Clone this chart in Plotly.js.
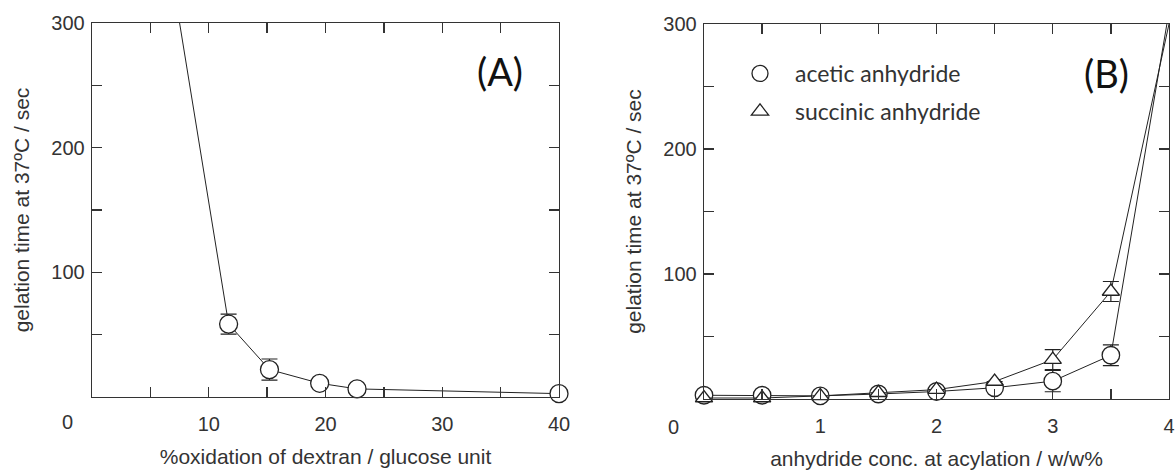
<!DOCTYPE html>
<html>
<head>
<meta charset="utf-8">
<script src="https://cdn.plot.ly/plotly-3.0.1.min.js"></script>
<style>
  html, body { margin: 0; padding: 0; background: #fff; }
  #chart { width: 1175px; height: 472px; }
</style>
</head>
<body>
<div id="chart"></div>
<script>
// ---------- Panel A: %oxidation vs gelation time ----------
const oxidation = [11.7, 15.2, 19.5, 22.7, 40];
const gelTimeA = [58.5, 22, 11, 6.5, 2.7];
const gelErrA = [8, 8.5, 0, 0, 0];
// curve continues above the plotted range toward lower oxidation
const oxidationLead = [5];
const gelTimeALead = [444];

// ---------- Panel B: anhydride conc. vs gelation time ----------
const anhydrideConc = [0, 0.5, 1, 1.5, 2, 2.5, 3, 3.5];
const aceticTime = [3, 3, 2.5, 4, 6, 9, 14.3, 35];
const aceticErr = [0, 0, 0, 0, 0, 0, 8.5, 8.3];
const succinicTime = [0.8, 0.8, 2.5, 5, 7.5, 14, 31.5, 86];
const succinicErr = [0, 0, 0, 0, 0, 0, 8, 8];
// both curves continue to the top-right corner
const concTail = [4];
const aceticTail = [310];
const succinicTail = [300];

// tick labels
const xTickValsA = [0, 5, 10, 15, 20, 25, 30, 35, 40];
const xTickTextA = ['', '', '10', '', '20', '', '30', '', '40'];
const xTickValsB = [0, 0.5, 1, 1.5, 2, 2.5, 3, 3.5, 4];
const xTickTextB = ['', '', '1', '', '2', '', '3', '', '4'];
const yTickVals = [0, 50, 100, 150, 200, 250, 300];
const yTickText = ['', '', '100', '', '200', '', '300'];

const seriesNames = ['acetic anhydride', 'succinic anhydride'];

const INK = '#222';
const lineStyle = {color: INK, width: 1};
const errStyle = (arr) => ({type: 'data', array: arr, visible: true, color: INK, thickness: 1.2, width: 8});

const traces = [
  // Panel A line
  {x: oxidationLead.concat(oxidation), y: gelTimeALead.concat(gelTimeA),
   xaxis: 'x', yaxis: 'y', mode: 'lines', line: lineStyle, showlegend: false, hoverinfo: 'skip'},
  // Panel A markers
  {x: oxidation, y: gelTimeA, xaxis: 'x', yaxis: 'y', mode: 'markers', cliponaxis: false,
   marker: {symbol: 'circle', size: 18, color: '#fff', line: {color: INK, width: 1.3}},
   error_y: errStyle(gelErrA), showlegend: false},

  // Panel B lines
  {x: anhydrideConc.concat(concTail), y: aceticTime.concat(aceticTail),
   xaxis: 'x2', yaxis: 'y2', mode: 'lines', line: lineStyle, showlegend: false, hoverinfo: 'skip'},
  {x: anhydrideConc.concat(concTail), y: succinicTime.concat(succinicTail),
   xaxis: 'x2', yaxis: 'y2', mode: 'lines', line: lineStyle, showlegend: false, hoverinfo: 'skip'},
  // Panel B markers
  {x: anhydrideConc, y: aceticTime, xaxis: 'x2', yaxis: 'y2', mode: 'markers', name: seriesNames[0],
   legendgroup: 'acetic', cliponaxis: false,
   marker: {symbol: 'circle', size: 17.5, color: '#fff', line: {color: INK, width: 1.3}},
   error_y: errStyle(aceticErr), showlegend: true},
  {x: anhydrideConc, y: succinicTime, xaxis: 'x2', yaxis: 'y2', mode: 'markers', name: seriesNames[1],
   legendgroup: 'succinic', cliponaxis: false,
   marker: {symbol: 'triangle-up', size: 15, color: '#fff', line: {color: INK, width: 1.3}},
   error_y: errStyle(succinicErr), showlegend: true}
];

const W = 1175, H = 472;
const px = (v) => v / W;
const py = (v) => 1 - v / H;

const tickFont = {family: 'Liberation Sans, Arial, sans-serif', size: 20, color: '#333'};
const titleFont = {family: 'Liberation Sans, Arial, sans-serif', size: 21, color: '#333'};

function xAxis(domain, range, vals, text, anchor, title) {
  return {
    domain: domain, range: range, anchor: anchor,
    tickmode: 'array', tickvals: vals, ticktext: text,
    ticks: 'inside', ticklen: 10, tickwidth: 1.3, tickcolor: '#333',
    showline: true, linecolor: '#333', linewidth: 1.3, mirror: 'ticks',
    showgrid: false, zeroline: false, fixedrange: true,
    tickfont: tickFont, ticklabelstandoff: 9,
    title: {text: title, font: titleFont, standoff: 15}
  };
}
function yAxis(domain, anchor, title) {
  return {
    domain: domain, range: [0, 300], anchor: anchor,
    tickmode: 'array', tickvals: yTickVals, ticktext: yTickText,
    ticks: 'inside', ticklen: 10, tickwidth: 1.3, tickcolor: '#333',
    showline: true, linecolor: '#333', linewidth: 1.3, mirror: 'ticks',
    showgrid: false, zeroline: false, fixedrange: true,
    tickfont: tickFont, ticklabelstandoff: 2,
    title: {text: title, font: titleFont, standoff: 16}
  };
}

const yTitle = 'gelation time at 37ºC / sec';

const layout = {
  width: W, height: H,
  margin: {l: 0, r: 0, t: 0, b: 0},
  paper_bgcolor: '#fff', plot_bgcolor: '#fff',
  showlegend: true,
  legend: {
    x: px(725), y: py(52), xanchor: 'left', yanchor: 'top',
    font: {family: 'Lato, sans-serif', size: 23, color: '#333'},
    bgcolor: 'rgba(0,0,0,0)', borderwidth: 0, itemwidth: 60,
    tracegroupgap: 5
  },
  xaxis: xAxis([px(92), px(559)], [0, 40], xTickValsA, xTickTextA, 'y', '%oxidation of dextran / glucose unit'),
  yaxis: yAxis([1 - 397 / H, 1 - 23 / H], 'x', yTitle),
  xaxis2: xAxis([px(704), px(1169)], [0, 4], xTickValsB, xTickTextB, 'y2', 'anhydride conc. at acylation / w/w%'),
  yaxis2: yAxis([1 - 399 / H, 1 - 24 / H], 'x2', yTitle),
  annotations: [
    {text: '0', x: px(67.7), y: py(421.7), xref: 'paper', yref: 'paper', xanchor: 'center', yanchor: 'middle', showarrow: false, font: tickFont},
    {text: '0', x: px(673.3), y: py(426.7), xref: 'paper', yref: 'paper', xanchor: 'center', yanchor: 'middle', showarrow: false, font: tickFont},
    {text: '(A)', x: px(500), y: py(71), xref: 'paper', yref: 'paper', xanchor: 'center', yanchor: 'middle', showarrow: false,
     font: {family: 'Lato, sans-serif', size: 38, color: '#111'}},
    {text: '(B)', x: px(1106), y: py(73), xref: 'paper', yref: 'paper', xanchor: 'center', yanchor: 'middle', showarrow: false,
     font: {family: 'Lato, sans-serif', size: 38, color: '#111'}}
  ]
};

Plotly.newPlot('chart', traces, layout, {staticPlot: true, displayModeBar: false});
</script>
</body>
</html>
